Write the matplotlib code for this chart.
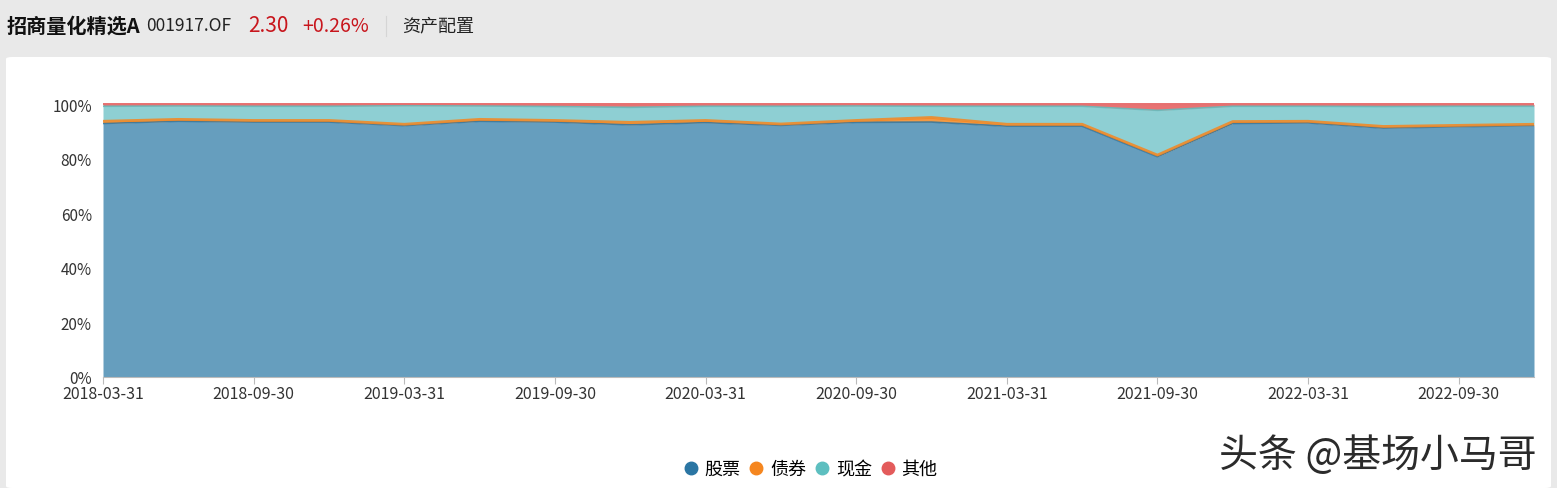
import numpy as np
import matplotlib.pyplot as plt
from matplotlib.patches import FancyBboxPatch
from matplotlib.lines import Line2D

plt.rcParams['font.family'] = ['Noto Sans CJK SC', 'DejaVu Sans']

# quarterly report dates
dates = ['2018-03-31', '2018-06-30', '2018-09-30', '2018-12-31',
         '2019-03-31', '2019-06-30', '2019-09-30', '2019-12-31',
         '2020-03-31', '2020-06-30', '2020-09-30', '2020-12-31',
         '2021-03-31', '2021-06-30', '2021-09-30', '2021-12-31',
         '2022-03-31', '2022-06-30', '2022-09-30', '2022-12-31']

# asset allocation (%)
stock = [93.0, 93.8, 93.5, 93.5, 92.2, 93.8, 93.5, 92.5, 93.3, 92.3,
         93.4, 93.5, 92.0, 92.0, 80.8, 93.0, 93.2, 91.3, 91.8, 92.2]
bond = [0.8, 0.7, 0.6, 0.6, 0.5, 0.7, 0.6, 0.9, 0.8, 0.5,
        0.7, 1.7, 0.7, 0.7, 0.6, 0.7, 0.6, 0.6, 0.5, 0.5]
other = [0.7, 0.6, 0.7, 0.7, 0.5, 0.6, 0.8, 1.1, 0.7, 0.7,
         0.6, 0.7, 0.7, 0.7, 2.2, 0.7, 0.7, 0.8, 0.7, 0.7]
cash = [100 - s - b - o for s, b, o in zip(stock, bond, other)]

names = ['股票', '债券', '现金', '其他']
line_colors = ['#2a75a3', '#f5861f', '#5dbfc0', '#e35b5b']
fill_colors = ['#669ebe', '#f29a45', '#8ecfd3', '#e87373']
line_widths = [1.2, 2.0, 1.2, 1.5]

fig = plt.figure(figsize=(15.57, 4.89), dpi=100)
fig.patch.set_facecolor('#e9e9e9')

# white panel behind the chart
panel = FancyBboxPatch((6 / 1557, 0), 1545 / 1557, (489 - 58) / 489,
                       boxstyle='round,pad=0,rounding_size=0.004',
                       transform=fig.transFigure, facecolor='white',
                       edgecolor='none', zorder=-10)
fig.patches.append(panel)

# header
ty = 1 - 26 / 489
fig.text(7 / 1557, ty, '招商量化精选A', fontsize=14.5, fontweight='bold', va='center', color='#111111')
fig.text(146 / 1557, ty, '001917.OF', fontsize=12.5, va='center', color='#222222')
fig.text(248 / 1557, ty, '2.30', fontsize=15, va='center', color='#c8161d')
fig.text(302 / 1557, ty, '+0.26%', fontsize=14, va='center', color='#c8161d')
fig.add_artist(Line2D([386 / 1557, 386 / 1557], [1 - 17 / 489, 1 - 37 / 489],
                      transform=fig.transFigure, color='#d5d5d5', lw=0.8))
fig.text(402 / 1557, ty, '资产配置', fontsize=13, va='center', color='#222222')

ax = fig.add_axes([103 / 1557, 1 - 378 / 489, 1431 / 1557, 274 / 489])
x = np.arange(len(dates))
series = [stock, bond, cash, other]
base = np.zeros(len(dates))
for vals, lc, fc, lw in zip(series, line_colors, fill_colors, line_widths):
    top = base + np.array(vals)
    ax.fill_between(x, base, top, color=fc, lw=0)
    ax.plot(x, top, color=lc, lw=lw, alpha=0.85)
    base = top

ax.set_xlim(0, len(dates) - 1)
ax.set_ylim(0, 100.5)
ax.set_yticks([0, 20, 40, 60, 80, 100])
ax.set_yticklabels([f'{v}%' for v in [0, 20, 40, 60, 80, 100]])
ax.set_xticks(x[::2])
ax.set_xticklabels(dates[::2])
for s in ['top', 'right', 'left']:
    ax.spines[s].set_visible(False)
ax.spines['bottom'].set_color('#bbbbbb')
ax.tick_params(axis='y', length=0, labelsize=11, colors='#333333', pad=8)
ax.tick_params(axis='x', length=5, color='#bbbbbb', labelsize=11.5, colors='#333333', pad=1)
ax.set_facecolor('white')

handles = [Line2D([], [], marker='o', ls='none', markersize=9, color=c) for c in line_colors]
fig.legend(handles, names, loc='center', bbox_to_anchor=(810 / 1557, 1 - 470 / 489),
           ncol=4, frameon=False, fontsize=13, handlelength=0.9, handletextpad=0.3,
           columnspacing=0.45)

fig.text(1378 / 1557, 1 - 456 / 489, '头条 @基场小马哥', fontsize=28, ha='center', va='center',
         color='#2b2b2b')

fig.savefig('out.png', dpi=100, facecolor=fig.get_facecolor())
